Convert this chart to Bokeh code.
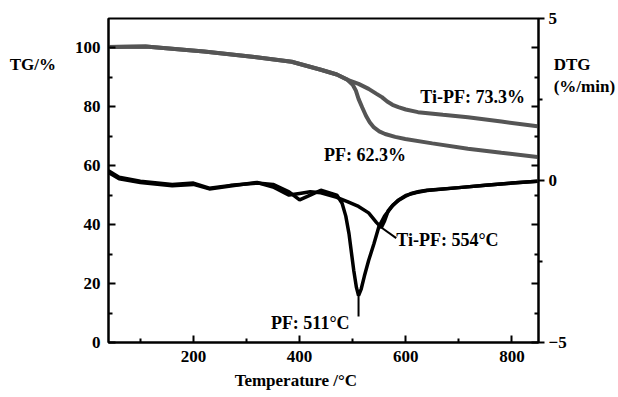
from bokeh.plotting import figure
from bokeh.models import Range1d, LinearAxis, FixedTicker, Label
from bokeh.embed import file_html
from bokeh.resources import INLINE

# ---- data ----
tg_pf_temp = [40, 110, 220, 315, 385, 440, 470, 490, 500, 506, 511, 518, 525, 532, 540, 550, 561, 580, 599, 650, 717, 780, 848]
tg_pf_val = [100.3, 100.5, 98.8, 96.9, 95.3, 92.6, 91.0, 89.2, 87.5, 85.5, 82.7, 79.8, 77.0, 74.8, 73.0, 71.7, 70.8, 69.8, 69.1, 67.6, 65.8, 64.4, 63.0]

tg_tipf_temp = [40, 110, 220, 315, 385, 440, 470, 493, 511, 530, 545, 555, 565, 575, 586, 600, 623, 670, 717, 780, 848]
tg_tipf_val = [100.3, 100.5, 98.8, 96.9, 95.3, 92.6, 91.0, 89.0, 87.8, 86.1, 84.4, 83.3, 81.8, 80.7, 79.9, 79.1, 78.2, 77.3, 76.5, 75.0, 73.4]

dtg_pf_temp = [40, 60, 100, 160, 200, 230, 270, 320, 350, 380, 400, 420, 440, 470, 480, 487, 493, 502, 507, 511, 516, 522, 530, 540, 549, 560, 573, 585, 600, 620, 640, 700, 750, 800, 848]
dtg_pf_val = [0.3, 0.1, -0.02, -0.12, -0.08, -0.24, -0.15, -0.08, -0.12, -0.35, -0.6, -0.45, -0.3, -0.45, -0.7, -1.1, -1.64, -2.78, -3.3, -3.55, -3.35, -2.95, -2.47, -1.95, -1.44, -1.1, -0.82, -0.62, -0.46, -0.37, -0.31, -0.22, -0.15, -0.08, -0.02]

dtg_tipf_temp = [40, 60, 100, 160, 200, 230, 270, 320, 350, 380, 400, 420, 440, 470, 490, 511, 530, 545, 554, 560, 567, 576, 586, 598, 610, 625, 640, 700, 750, 800, 848]
dtg_tipf_val = [0.25, 0.05, -0.06, -0.16, -0.12, -0.26, -0.17, -0.06, -0.2, -0.45, -0.4, -0.35, -0.38, -0.52, -0.65, -0.8, -1.0, -1.3, -1.45, -1.25, -0.93, -0.75, -0.62, -0.5, -0.4, -0.34, -0.3, -0.22, -0.15, -0.08, -0.02]

x_major = [200, 400, 600, 800]
x_minor = [100, 300, 500, 700]
tg_major = [0, 20, 40, 60, 80, 100]
tg_minor = [10, 30, 50, 70, 90]
dtg_major = [-5, 0, 5]
dtg_minor = [-2.5, 2.5]

FONT = "Liberation Serif"
FS = "17px"
FS_ANN = "18px"
NB = "\u00a0"

p = figure(width=618, height=397, x_range=Range1d(40, 850), y_range=Range1d(0, 110),
           output_backend="svg", toolbar_location=None,
           min_border_left=108, min_border_right=75, min_border_top=18, min_border_bottom=55)
p.extra_y_ranges = {"dtg": Range1d(-5, 5)}
p.grid.visible = False
p.outline_line_color = "black"
p.outline_line_width = 2
p.background_fill_color = "white"
p.border_fill_color = "white"

def style(ax, tin, tout, min_in, min_out):
    ax.axis_line_color = "black"
    ax.axis_line_width = 2
    ax.major_tick_line_color = "black"
    ax.major_tick_line_width = 2
    ax.minor_tick_line_color = "black"
    ax.minor_tick_line_width = 2
    ax.major_tick_in = tin
    ax.major_tick_out = tout
    ax.minor_tick_in = min_in
    ax.minor_tick_out = min_out
    ax.major_label_text_font = FONT
    ax.major_label_text_font_style = "bold"
    ax.major_label_text_font_size = FS
    ax.major_label_text_color = "black"
    ax.axis_label_text_font = FONT
    ax.axis_label_text_font_style = "bold"
    ax.axis_label_text_font_size = FS
    ax.axis_label_text_color = "black"

xa = p.xaxis[0]
xa.ticker = FixedTicker(ticks=x_major, minor_ticks=x_minor)
style(xa, 7, 0, 4, 0)
xa.major_label_standoff = 8
xa.axis_label = "Temperature /°C" + NB * 13
xa.axis_label_standoff = 6

ya = p.yaxis[0]
ya.ticker = FixedTicker(ticks=tg_major, minor_ticks=tg_minor)
style(ya, 7, 0, 4, 0)
ya.major_label_standoff = 8
ya.axis_label = "\n\n\n\nTG/%"
ya.axis_label_standoff = 16
ya.axis_label_orientation = "horizontal"
ya.axis_label_align = "end"

# mirrored TG ticks on the right (inward only)
mirror = LinearAxis(ticker=FixedTicker(ticks=tg_major, minor_ticks=tg_minor))
style(mirror, 7, 0, 4, 0)
mirror.axis_line_color = None
mirror.major_label_text_font_size = "0px"
mirror.major_label_standoff = 0
p.add_layout(mirror, "right")

dtg_axis = LinearAxis(y_range_name="dtg", ticker=FixedTicker(ticks=dtg_major, minor_ticks=dtg_minor))
style(dtg_axis, 0, 6, 0, 4)
dtg_axis.major_label_standoff = 4
dtg_axis.axis_label = "\n\n\n\n\nDTG\n(%/min)"
dtg_axis.axis_label_standoff = -16
dtg_axis.axis_label_orientation = "horizontal"
dtg_axis.axis_label_align = "end"
p.add_layout(dtg_axis, "right")

TG_COLOR = "#555555"
p.line(tg_pf_temp, tg_pf_val, line_color=TG_COLOR, line_width=4)
p.line(tg_tipf_temp, tg_tipf_val, line_color=TG_COLOR, line_width=4)
p.line(dtg_pf_temp, dtg_pf_val, line_color="black", line_width=3.5, y_range_name="dtg")
p.line(dtg_tipf_temp, dtg_tipf_val, line_color="black", line_width=3.5, y_range_name="dtg")

# leader lines
p.segment(x0=[511], y0=[-3.55], x1=[511], y1=[-4.2], line_color="black", line_width=2, y_range_name="dtg")
p.segment(x0=[554], y0=[-1.45], x1=[582], y1=[-1.78], line_color="black", line_width=2, y_range_name="dtg")

def lab(text, x, y, align="center", rng="default"):
    p.add_layout(Label(x=x, y=y, text=text, text_font=FONT, text_font_style="bold", text_font_size=FS_ANN,
                       text_color="black", text_align=align, text_baseline="middle", y_range_name=rng))

lab("Ti-PF: 73.3%", 726, 83.5)
lab("PF: 62.3%", 523, 63.7)
lab("Ti-PF: 554°C", 582, -1.85, align="left", rng="dtg")
lab("PF: 511°C", 420, -4.41, rng="dtg")

open("out.html", "w").write(file_html(p, INLINE))
